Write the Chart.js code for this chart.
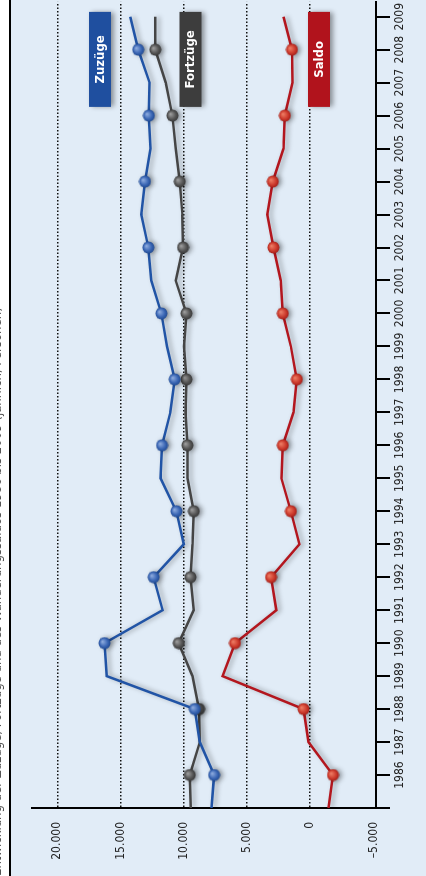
<!DOCTYPE html>
<html>
<head>
  <meta charset="utf-8">
  <title>Zuzüge, Fortzüge, Saldo</title>
  <script src="https://cdn.jsdelivr.net/npm/chart.js"></script>
  <style>
    body {
      margin: 0;
      width: 426px;
      height: 876px;
      overflow: hidden;
      background: #fff;
    }
    /* chart is drawn landscape and turned on its side */
    #wrap {
      position: absolute;
      left: 0;
      top: 876px;
      width: 876px;
      height: 426px;
      transform-origin: 0 0;
      transform: rotate(-90deg);
    }
  </style>
</head>
<body>
  <div id="wrap">
    <canvas id="chart" width="876" height="426"></canvas>
  </div>

  <script>
    const years = [1985, 1986, 1987, 1988, 1989, 1990, 1991, 1992, 1993, 1994, 1995, 1996,
                   1997, 1998, 1999, 2000, 2001, 2002, 2003, 2004, 2005, 2006, 2007, 2008, 2009];
    const zuzuege = [7800, 7600, 8730, 9130, 16090, 16270, 11670, 12380, 10000, 10580, 11830, 11720,
                     11060, 10720, 11330, 11770, 12570, 12800, 13360, 13070, 12640, 12760, 12700, 13600, 14230];
    const fortzuege = [9450, 9530, 8730, 8790, 9310, 10400, 9210, 9470, 9310, 9210, 9710, 9710,
                       9870, 9790, 9980, 9790, 10640, 10060, 10110, 10320, 10640, 10900, 11430, 12250, 12250];
    const saldo = [-1450, -1800, 140, 530, 6930, 5950, 2680, 3100, 850, 1530, 2280, 2170,
                   1330, 1060, 1530, 2170, 2330, 2910, 3390, 2960, 2120, 2010, 1410, 1450, 2120];
    const valueTicks = [-5000, 0, 5000, 10000, 15000, 20000];
    const seriesNames = ['Zuzüge', 'Fortzüge', 'Saldo'];

    const FONT = "'DejaVu Sans Condensed', 'Liberation Sans Narrow', 'DejaVu Sans', sans-serif";
    const BG = '#e1ecf7';

    // little shaded ball used as marker
    function ball(light, base, dark) {
      const c = document.createElement('canvas');
      c.width = 13; c.height = 13;
      const g = c.getContext('2d');
      const grad = g.createRadialGradient(8, 4.5, 0.5, 6.5, 6.5, 6.5);
      grad.addColorStop(0, light);
      grad.addColorStop(0.6, base);
      grad.addColorStop(1, dark);
      g.fillStyle = grad;
      g.beginPath();
      g.arc(6.5, 6.5, 6, 0, Math.PI * 2);
      g.fill();
      return c;
    }

    function pts(vals) {
      return years.map((y, i) => ({ x: y, y: vals[i] }));
    }

    function fmt(v) {
      const s = String(Math.abs(v)).replace(/\B(?=(\d{3})+(?!\d))/g, '.');
      return v < 0 ? '\u2013' + s : s;
    }

    const markerRadius = ctx => {
      const yr = years[ctx.dataIndex];
      return (yr % 2 === 0 && yr > 1985 && yr < 2009) ? 6 : 0;
    };

    const lineShadow = {
      id: 'lineShadow',
      beforeDatasetDraw(chart) {
        const c = chart.ctx;
        c.save();
        c.shadowColor = 'rgba(0,0,0,0.35)';
        c.shadowBlur = 5;
        c.shadowOffsetX = 0;
        c.shadowOffsetY = 3;
      },
      afterDatasetDraw(chart) {
        chart.ctx.restore();
      }
    };

    const frame = {
      id: 'frame',
      beforeDraw(chart) {
        const c = chart.ctx;
        c.save();
        c.fillStyle = BG;
        c.fillRect(0, 0, chart.width, chart.height);
        c.fillStyle = '#fff';
        c.fillRect(0, 0, chart.width, 9);
        c.fillStyle = '#000';
        c.fillRect(0, 9, chart.width, 2);
        // title line sits above the frame, only its lower edge shows
        c.fillStyle = '#555';
        c.font = '13px ' + FONT;
        c.textBaseline = 'alphabetic';
        c.fillText('Entwicklung der Zuzüge, Fortzüge und des Wanderungssaldos 1986 bis 2009 (jährlich, Personen)', 0, 1);
        c.restore();
      }
    };

    const tags = {
      id: 'tags',
      afterDraw(chart, args, opts) {
        const c = chart.ctx;
        const right = chart.chartArea.right - 10;
        opts.items.forEach(it => {
          c.save();
          c.shadowColor = 'rgba(0,0,0,0.4)';
          c.shadowBlur = 5;
          c.shadowOffsetY = 3;
          c.fillStyle = it.color;
          c.fillRect(right - 95, it.top, 95, 22);
          c.restore();
          c.save();
          c.fillStyle = '#fff';
          c.font = 'bold 13px ' + FONT;
          c.textAlign = 'center';
          c.textBaseline = 'middle';
          c.fillText(it.text, right - 47.5, it.top + 11.5);
          c.restore();
        });
      }
    };

    const ctx = document.getElementById('chart').getContext('2d');
    const chart = new Chart(ctx, {
      type: 'line',
      data: {
        datasets: [
          {
            label: seriesNames[0],
            data: pts(zuzuege),
            borderColor: '#2154a6',
            borderWidth: 2.5,
            pointStyle: ball('#8aa8dc', '#3a66b4', '#1c458c'),
            pointRadius: markerRadius,
            tension: 0
          },
          {
            label: seriesNames[1],
            data: pts(fortzuege),
            borderColor: '#454545',
            borderWidth: 2.5,
            pointStyle: ball('#9a9a9a', '#555', '#333'),
            pointRadius: markerRadius,
            tension: 0
          },
          {
            label: seriesNames[2],
            data: pts(saldo),
            borderColor: '#b3161e',
            borderWidth: 2.5,
            pointStyle: ball('#ec7a62', '#cc3a2c', '#9c1a16'),
            pointRadius: markerRadius,
            tension: 0
          }
        ]
      },
      options: {
        responsive: false,
        animation: false,
        events: [],
        layout: { padding: { top: 32, right: 0, left: 0, bottom: 0 } },
        plugins: {
          legend: { display: false },
          tooltip: { enabled: false },
          tags: {
            items: [
              { text: seriesNames[0], color: '#1f4f9f', top: 89 },
              { text: seriesNames[1], color: '#3d3d3d', top: 179.5 },
              { text: seriesNames[2], color: '#b1131c', top: 308 }
            ]
          }
        },
        scales: {
          x: {
            type: 'linear',
            min: 1985,
            max: 2009.45,
            afterBuildTicks: s => { s.ticks = years.map(v => ({ value: v })); },
            afterFit: s => { s.height = 50; },
            border: { color: '#000', width: 2 },
            grid: {
              drawOnChartArea: false,
              color: '#000',
              lineWidth: 2,
              tickLength: 14
            },
            ticks: {
              autoSkip: false,
              maxRotation: 0,
              padding: 3,
              color: '#222',
              font: { family: FONT, size: 12 },
              callback: v => v === 1985 ? '' : String(v)
            }
          },
          y: {
            min: -5200,
            max: 22000,
            afterBuildTicks: s => { s.ticks = valueTicks.map(v => ({ value: v })); },
            afterFit: s => { s.width = 68; },
            // in v4 border.dash styles the grid lines, the axis line stays solid
            border: { color: '#000', width: 2, dash: [1.5, 2] },
            grid: {
              drawTicks: false,
              color: c => c.tick && c.tick.value === -5000 ? 'rgba(0,0,0,0)' : '#111',
              lineWidth: 1.5
            },
            ticks: {
              padding: 14,
              color: '#222',
              font: { family: FONT, size: 12 },
              callback: v => fmt(v)
            }
          }
        }
      },
      plugins: [frame, lineShadow, tags]
    });
  </script>
</body>
</html>
